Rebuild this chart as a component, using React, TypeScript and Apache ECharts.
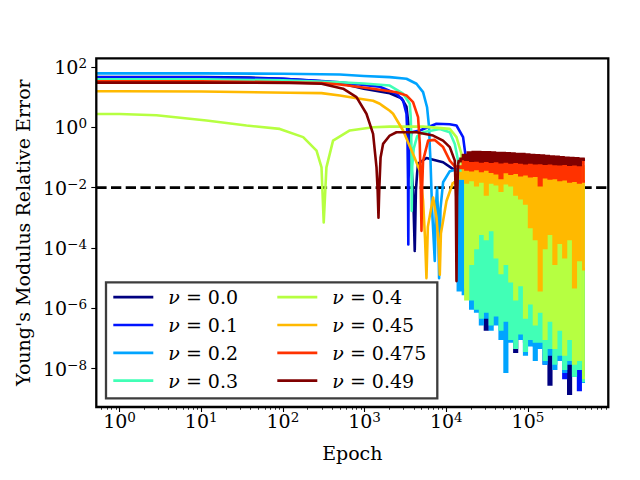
import React, { useEffect, useRef } from 'react';
import * as echarts from 'echarts';

const FONT = 'DejaVu Serif';
const FS = 19;

// Axis extents (epochs, relative error)
const X_MIN = 0.519;
const X_MAX = 964000;
const Y_MIN = 5.4e-10;
const Y_MAX = 192;
const X_TICKS = [1, 10, 100, 1000, 10000, 100000];
const Y_TICKS = [1e-8, 1e-6, 1e-4, 1e-2, 1, 100];
const THRESHOLD = 0.01;

const NU_LABELS = ['0.0', '0.1', '0.2', '0.3', '0.4', '0.45', '0.475', '0.49'];
const COLORS = ['#000080', '#0014ff', '#00a4ff', '#41ffb6', '#b6ff41', '#ffb900', '#ff3200', '#800000'];

// Smooth early phase of each run: [epoch, relative error]
const NU00_HEAD = [[1, 46], [10, 46], [40, 44], [100, 40], [300, 33], [497, 29], [977, 19], [2033, 13.3], [2830, 9.1], [3257, 4.8], [3475, 1.0], [3700, 0.1], [3950, 0.005], [4113, 8e-5], [4250, 0.008], [4400, 0.03], [4518, 0.062], [5724, 0.096], [9146, 0.069], [12130, 0.041]];
const NU01_HEAD = [[1, 45], [10, 45], [100, 40], [300, 34], [497, 31], [977, 25], [1535, 22], [2456, 12.9], [2961, 7.7], [3257, 2.8], [3350, 0.47], [3400, 0.02], [3430, 1.3e-4], [3460, 0.02], [3573, 0.3], [3748, 0.68], [4740, 0.78], [7590, 1.3], [11000, 1.25], [13340, 1.14], [16070, 0.47], [17340, 0.1]];
const NU02_HEAD = [[1, 61], [10, 61], [100, 59], [497, 56], [977, 50], [2033, 45.7], [3257, 40.4], [4316, 27.6], [5202, 14.5], [5821, 4.6], [6160, 1.0], [6300, 0.2], [6412, 0.078], [6700, 2e-3], [7234, 3.7e-5], [7450, 2e-3], [7722, 0.01], [7950, 1e-3], [8170, 1e-5], [8500, 2e-3], [9146, 0.015], [11050, 0.035], [13340, 0.04]];
const NU03_HEAD = [[1, 38.7], [10, 38.7], [100, 36], [497, 31], [977, 28], [2033, 24], [2961, 12.9], [3573, 6.0], [3676, 2.15], [3740, 0.3], [3778, 1.7e-3], [3830, 0.05], [3999, 0.2], [4400, 0.5], [5202, 0.68], [8331, 0.88], [11050, 0.68], [12720, 0.28], [13960, 0.078]];
const NU04_HEAD = [[1, 2.74], [2.83, 2.5], [11.6, 1.67], [35.8, 1.14], [91.5, 0.88], [177, 0.47], [258, 0.168], [297, 0.047], [316, 7e-4], [341, 0.047], [411, 0.36], [659, 0.78], [1271, 1.0], [2033, 1.05], [5202, 1.05], [11050, 0.88], [13340, 0.47], [15360, 0.13]];
const NU045_HEAD = [[1, 15.5], [10, 15.2], [121, 13.9], [297, 13.5], [497, 11.3], [873, 8.8], [1271, 7.5], [1535, 6.0], [1684, 5.0], [2033, 3.5], [2233, 2.8], [2961, 0.78], [3920, 0.13], [4740, 0.037], [5202, 3.6e-3], [5500, 2e-4], [5724, 1e-5], [5950, 5e-4], [6898, 4.7e-3], [7600, 1e-3], [8100, 1e-4], [8331, 1.3e-5], [8600, 3e-4], [10070, 3.6e-3], [12130, 0.015]];
const NU0475_HEAD = [[1, 33], [10, 33], [100, 31], [300, 29], [497, 26], [1271, 18.9], [2456, 14.5], [3257, 11.3], [3920, 6.8], [4518, 2.15], [4740, 0.28], [4880, 0.01], [4975, 3.7e-4], [5070, 0.01], [5202, 0.078], [6000, 0.36], [7234, 0.38], [9146, 0.22], [11050, 0.078], [12720, 0.05]];
const NU049_HEAD = [[1, 30], [10, 30], [121, 29.5], [297, 27.6], [546, 18.9], [796, 9.9], [1054, 2.8], [1271, 0.6], [1400, 0.047], [1445, 0.008], [1480, 1e-3], [1515, 0.01], [1570, 0.1], [1684, 0.28], [2033, 0.53], [2456, 0.68], [4316, 0.68], [6898, 0.53], [9146, 0.36], [11050, 0.22], [12720, 0.078], [13100, 0.005], [13340, 8e-6], [13580, 0.005], [13960, 0.06]];

// Oscillating late phase (alternating peak / trough per epoch step), epochs shared by all runs
const NOISE_EPOCHS = [14454, 15488, 16596, 17783, 19055, 20417, 21878, 23442, 25119, 26915, 28840, 30903, 33113, 35481, 38019, 40738, 43652, 46774, 50119, 53703, 57544, 61660, 66069, 70795, 75858, 81283, 87096, 93325, 100000, 107152, 114815, 123027, 131826, 141254, 151356, 162181, 173780, 186209, 199526, 213796, 229087, 245471, 263027, 281838, 301995, 323594, 346737, 371535, 398107, 426580, 457088, 500000];

const NU00_NOISE = [0.035, 0.01, 0.035, 1e-5, 0.035, 4e-6, 0.035, 2e-6, 0.035, 1e-6, 0.035, 2e-7, 0.035, 8e-7, 0.035, 7e-7, 0.035, 4e-7, 0.035, 3e-7, 0.035, 2e-7, 0.035, 3.7e-8, 0.035, 2e-7, 0.035, 1e-7, 0.035, 1.5e-7, 0.035, 6.3e-8, 0.035, 8e-8, 0.035, 6e-8, 0.035, 3e-9, 0.035, 3e-8, 0.035, 4e-8, 0.035, 2e-8, 0.035, 1.5e-9, 0.035, 2e-8, 0.035, 1.5e-8, 0.035, 6e-9];
const NU01_NOISE = [0.04, 0.04, 0.04, 2e-5, 0.04, 5e-6, 0.04, 3e-6, 0.04, 1e-6, 0.04, 1.5e-6, 0.04, 6e-7, 0.04, 8e-7, 0.04, 4e-7, 0.04, 5e-7, 0.04, 2e-7, 0.04, 1e-7, 0.04, 2e-7, 0.04, 8e-8, 0.04, 1.5e-7, 0.04, 6e-8, 0.04, 1e-7, 0.04, 1.5e-8, 0.04, 6e-8, 0.04, 3e-8, 0.04, 4e-8, 0.04, 5e-9, 0.04, 3e-8, 0.04, 1.5e-8, 0.04, 2e-9, 0.04, 1e-8];
const NU02_NOISE = [4e-6, 0.04, 3e-6, 0.04, 0.04, 1e-6, 0.04, 8e-7, 0.04, 3e-7, 0.04, 5e-7, 0.04, 2e-7, 0.04, 3e-7, 0.04, 1e-7, 0.04, 8e-9, 0.04, 8e-8, 0.04, 1e-7, 0.04, 1e-7, 0.04, 3e-8, 0.04, 6e-8, 0.04, 2e-8, 0.04, 5e-8, 0.04, 1.5e-8, 0.04, 3e-8, 0.04, 1e-8, 0.04, 2e-8, 0.04, 8e-9, 0.04, 1.5e-8, 0.04, 6e-9, 0.04, 1.5e-8, 0.04, 3.7e-9];
const NU03_NOISE = [0.04, 0.02, 0.04, 5e-6, 0.04, 2e-6, 0.04, 1e-6, 0.04, 5e-7, 0.04, 8e-7, 0.04, 3e-7, 0.04, 6e-7, 0.04, 2e-7, 0.04, 4e-7, 0.04, 1e-7, 0.04, 5e-8, 0.04, 1.5e-7, 0.04, 4e-8, 0.04, 1e-7, 0.04, 8e-8, 0.04, 8e-8, 0.04, 2e-8, 0.04, 5e-8, 0.04, 1.5e-8, 0.04, 3e-8, 0.04, 1e-8, 0.04, 2e-8, 0.04, 6e-9, 0.04, 1e-8, 0.04, 4e-9];
const NU04_NOISE = [0.05, 0.05, 0.04, 2e-6, 0.04, 3e-5, 0.04, 1e-4, 0.04, 3e-4, 0.04, 2e-4, 0.04, 4e-4, 0.04, 5e-5, 0.04, 1.5e-5, 0.04, 3e-5, 0.04, 8e-6, 0.04, 2e-6, 0.04, 6e-6, 0.04, 5e-7, 0.04, 1.5e-6, 0.04, 3e-7, 0.04, 8e-7, 0.04, 1e-7, 0.04, 4e-7, 0.04, 5e-8, 0.04, 2e-7, 0.04, 3e-8, 0.04, 1e-7, 0.04, 1.5e-8, 0.04, 2e-8, 0.04, 5e-9];
const NU045_NOISE = [0.03, 0.02, 0.05, 0.015, 0.05, 0.018, 0.05, 0.012, 0.05, 0.016, 0.05, 0.006, 0.05, 0.015, 0.05, 0.013, 0.05, 0.008, 0.05, 0.014, 0.05, 0.012, 0.05, 0.006, 0.05, 0.0045, 0.05, 0.003, 0.05, 5e-4, 0.05, 2e-4, 0.05, 4e-6, 0.05, 1e-4, 0.05, 3e-4, 0.05, 3e-5, 0.05, 1.5e-4, 0.05, 5e-5, 0.05, 2e-4, 0.05, 5e-6, 0.05, 4e-5, 0.05, 2e-5];
const NU0475_NOISE = [0.05, 0.045, 0.09, 0.04, 0.1, 0.038, 0.1, 0.042, 0.1, 0.036, 0.1, 0.04, 0.098, 0.034, 0.096, 0.03, 0.095, 0.021, 0.094, 0.033, 0.092, 0.029, 0.09, 0.031, 0.088, 0.026, 0.087, 0.028, 0.085, 0.024, 0.084, 0.025, 0.082, 0.012, 0.08, 0.022, 0.079, 0.02, 0.078, 0.021, 0.076, 0.018, 0.075, 0.019, 0.073, 0.016, 0.072, 0.017, 0.07, 0.015, 0.068, 0.016];
const NU049_NOISE = [0.075, 0.09, 0.12, 0.085, 0.145, 0.078, 0.15, 0.08, 0.15, 0.074, 0.148, 0.078, 0.146, 0.072, 0.145, 0.076, 0.14, 0.07, 0.14, 0.074, 0.137, 0.068, 0.135, 0.072, 0.13, 0.068, 0.128, 0.065, 0.125, 0.068, 0.12, 0.064, 0.117, 0.066, 0.114, 0.062, 0.11, 0.064, 0.107, 0.061, 0.104, 0.06, 0.1, 0.062, 0.097, 0.058, 0.095, 0.06, 0.093, 0.057, 0.09, 0.085];

const HEADS = [NU00_HEAD, NU01_HEAD, NU02_HEAD, NU03_HEAD, NU04_HEAD, NU045_HEAD, NU0475_HEAD, NU049_HEAD];
const NOISES = [NU00_NOISE, NU01_NOISE, NU02_NOISE, NU03_NOISE, NU04_NOISE, NU045_NOISE, NU0475_NOISE, NU049_NOISE];

function headData(head: number[][]) {
  // epoch 0 is clipped to the left edge of the log axis, as in the original
  return [[X_MIN, head[0][1]], ...head];
}

function noiseData(head: number[][], noise: number[]) {
  const last = head[head.length - 1];
  const tail = NOISE_EPOCHS.map((e, i) => [e, noise[i]]).filter((p) => p[0] > last[0]);
  return [last, ...tail];
}

function powLabel(v: number) {
  const e = Math.round(Math.log10(v));
  return `{b|10}{s|${e < 0 ? '\u2212' + -e : e}}`;
}

const POW_RICH = {
  b: { fontFamily: FONT, fontSize: FS, lineHeight: 22, color: '#000' },
  s: { fontFamily: FONT, fontSize: 13.5, lineHeight: 11, verticalAlign: 'top', color: '#000' },
};

function minorTicks() {
  const out: number[] = [];
  for (let d = -1; d <= 5; d++) {
    for (let m = 2; m <= 9; m++) {
      const v = m * Math.pow(10, d);
      if (v > X_MIN && v < X_MAX) out.push(v);
    }
  }
  return out;
}

const names = NU_LABELS.map((n) => `ν = ${n}`);

function buildOption() {
  const series: any[] = [
    {
      type: 'line',
      name: 'threshold',
      data: [[X_MIN, THRESHOLD], [X_MAX, THRESHOLD]],
      symbol: 'none',
      showSymbol: false,
      silent: true,
      lineStyle: { color: '#000', width: 2.8, type: [10.3, 4.4] },
      emphasis: { disabled: true },
    },
  ];
  HEADS.forEach((h, i) => {
    const common = {
      type: 'line',
      symbol: 'none',
      showSymbol: false,
      silent: true,
      clip: true,
      color: COLORS[i],
      emphasis: { disabled: true },
    };
    series.push({
      ...common,
      name: names[i],
      data: headData(h),
      lineStyle: { color: COLORS[i], width: 2.6, join: 'round' },
    });
    series.push({
      ...common,
      name: names[i] + ' (late)',
      data: noiseData(h, NOISES[i]),
      step: 'middle',
      lineStyle: { color: COLORS[i], width: 2.7, join: 'miter', cap: 'butt' },
    });
  });

  const legendText = {
    fontFamily: FONT,
    fontSize: FS,
    lineHeight: 22,
    color: '#000',
    padding: [0, 0, 0, 10],
    rich: {
      i: { fontFamily: FONT, fontSize: FS, fontStyle: 'italic', lineHeight: 22, color: '#000' },
      t: { fontFamily: FONT, fontSize: FS, lineHeight: 22, color: '#000' },
    },
  };
  const legendCommon = {
    orient: 'vertical',
    padding: 0,
    itemWidth: 40,
    itemHeight: 14,
    itemGap: 5.8,
    icon: 'path://M0 0H40V2.7H0Z',
    selectedMode: false,
    z: 6,
    textStyle: legendText,
    formatter: (name: string) => `{i|ν}{t|${name.slice(1)}}`,
  };

  return {
    animation: false,
    backgroundColor: '#fff',
    grid: {
      left: 96.3,
      top: 58.3,
      right: 31.7,
      bottom: 73,
      show: true,
      borderColor: '#000',
      borderWidth: 2.3,
      backgroundColor: 'transparent',
      z: 10,
    },
    legend: [
      { ...legendCommon, left: 113.3, top: 286.2, data: names.slice(0, 4) },
      { ...legendCommon, left: 277.3, top: 286.2, data: names.slice(4) },
    ],
    graphic: [
      {
        type: 'rect',
        z: 3,
        shape: { x: 106, y: 282.3, width: 331.3, height: 116 },
        style: { fill: '#fff', stroke: '#3d3d3d', lineWidth: 2.3 },
        silent: true,
      },
    ],
    xAxis: [
      {
        type: 'log',
        logBase: 10,
        min: X_MIN,
        max: X_MAX,
        position: 'bottom',
        name: 'Epoch',
        nameLocation: 'middle',
        nameGap: 36.5,
        nameTextStyle: { fontFamily: FONT, fontSize: FS, color: '#000' },
        axisLine: { show: false },
        splitLine: { show: false },
        axisTick: { show: true, customValues: X_TICKS, length: 5, lineStyle: { color: '#000', width: 1.1 } },
        axisLabel: { customValues: X_TICKS, formatter: powLabel, margin: 3, rich: POW_RICH, fontFamily: FONT, fontSize: FS, color: '#000' },
      },
      {
        type: 'log',
        logBase: 10,
        min: X_MIN,
        max: X_MAX,
        position: 'bottom',
        gridIndex: 0,
        axisLine: { show: false },
        splitLine: { show: false },
        axisLabel: { show: false },
        axisTick: { show: true, customValues: minorTicks(), length: 2.8, lineStyle: { color: '#000', width: 0.8 } },
      },
    ],
    yAxis: {
      type: 'log',
      logBase: 10,
      min: Y_MIN,
      max: Y_MAX,
      name: "Young's Modulus Relative Error",
      nameLocation: 'middle',
      nameGap: 61.5,
      nameRotate: 90,
      nameTextStyle: { fontFamily: FONT, fontSize: FS, color: '#000' },
      axisLine: { show: false },
      splitLine: { show: false },
      axisTick: { show: true, customValues: Y_TICKS, length: 5, lineStyle: { color: '#000', width: 1.1 } },
      axisLabel: { customValues: Y_TICKS, formatter: powLabel, margin: 9.3, rich: POW_RICH, fontFamily: FONT, fontSize: FS, color: '#000' },
    },
    series,
  };
}

export default function App() {
  const ref = useRef<HTMLDivElement>(null);
  useEffect(() => {
    if (!ref.current) return;
    const chart = echarts.init(ref.current, null, { renderer: 'svg' });
    chart.setOption(buildOption() as any);
    return () => chart.dispose();
  }, []);
  return (
    <div
      ref={ref}
      style={{ position: 'fixed', left: 0, top: 0, width: 640, height: 480, background: '#fff' }}
    />
  );
}
